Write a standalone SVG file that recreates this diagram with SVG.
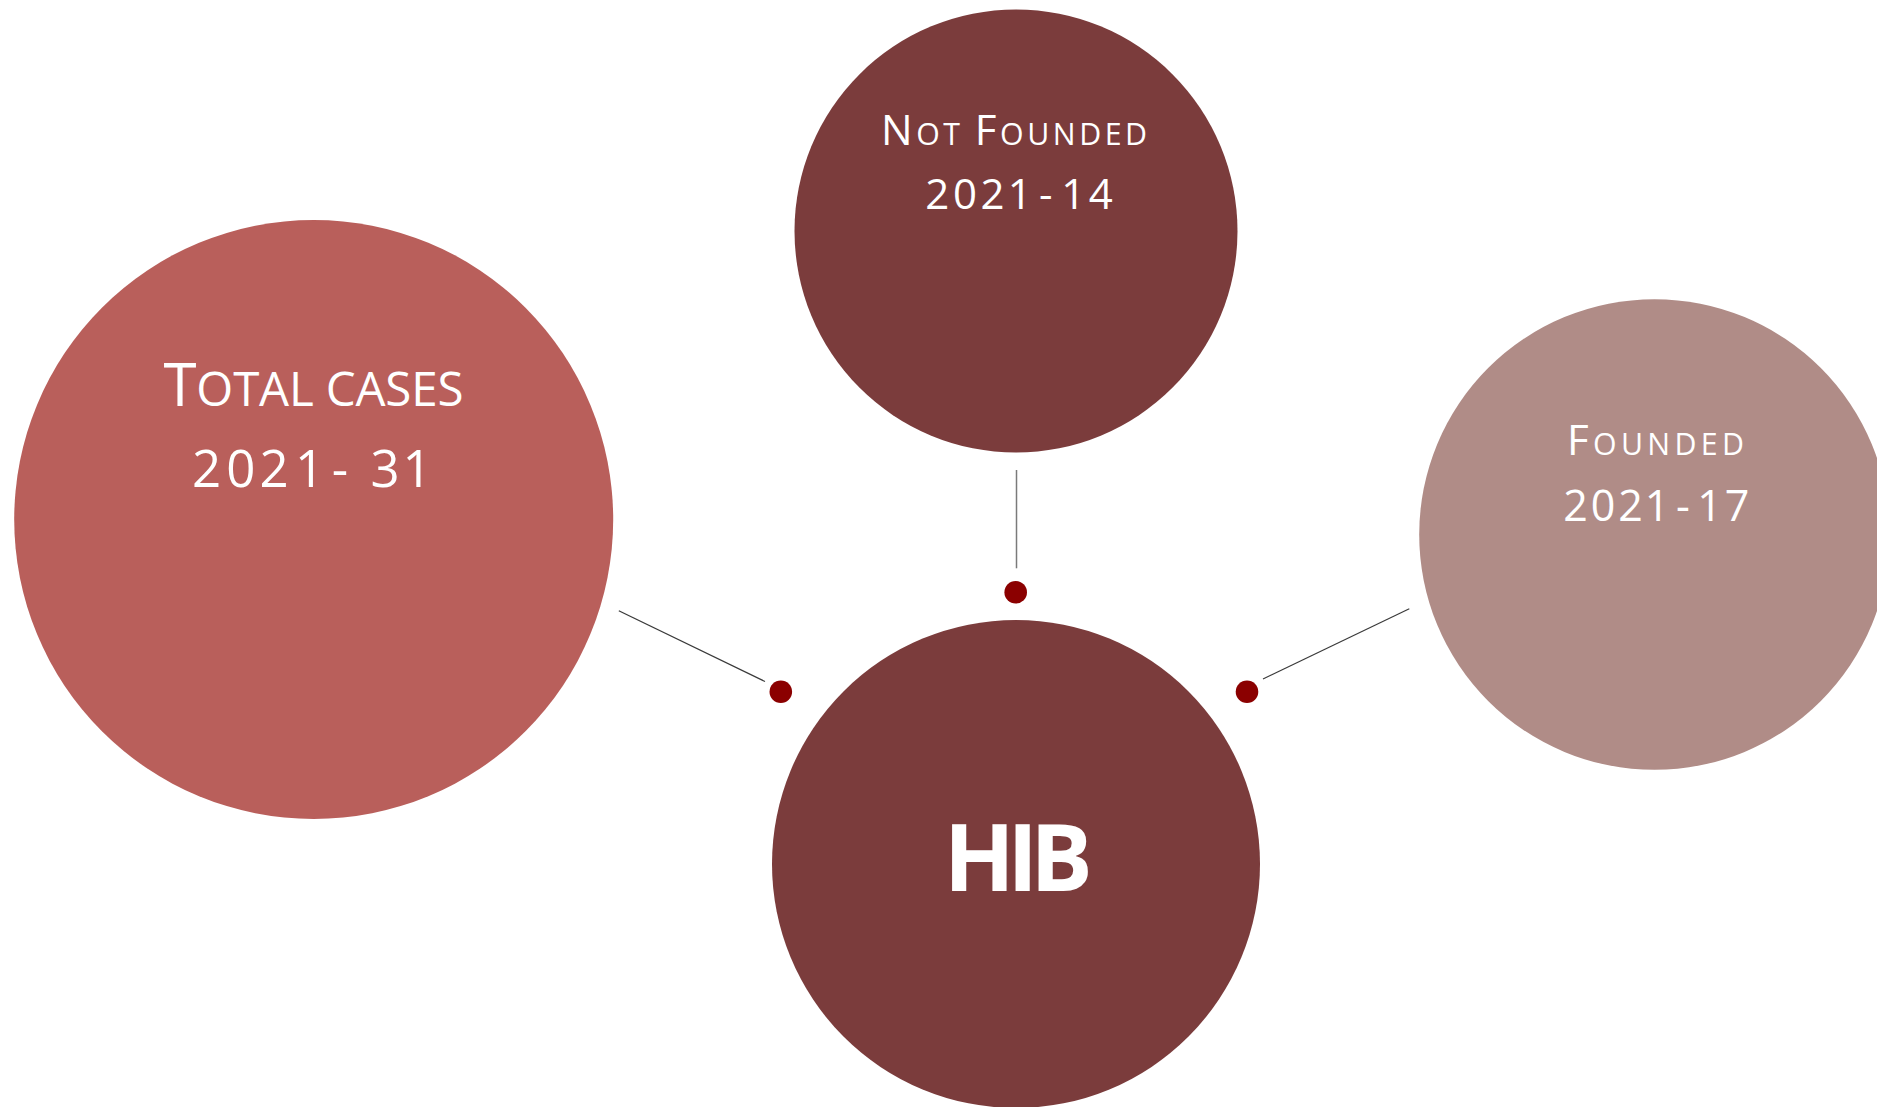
<svg xmlns="http://www.w3.org/2000/svg" width="1877" height="1107" viewBox="0 0 1877 1107">
<style>
.lbl{font-family:"Open Sans","Noto Sans","Liberation Sans",sans-serif;fill:#ffffff;text-anchor:middle}
.hib{font-family:"Open Sans","Noto Sans","Liberation Sans",sans-serif;font-weight:bold;fill:#ffffff;text-anchor:middle}
.conn{stroke:#3a3a3a;stroke-width:1.2;fill:none}
.dot{fill:#8b0000}
</style>
<rect width="1877" height="1107" fill="#ffffff"/>
<g id="total-cases">
<circle cx="313.7" cy="519.5" r="299.5" fill="#b95f5b"/>
<text class="lbl" x="313.5" y="405.7" textLength="300" font-size="60">T<tspan font-size="47.5">OTAL CASES</tspan></text>
<text class="lbl" x="206.7 240.8 274.2 309.5 340 362 385 417" y="486.7" font-size="51">2021- 31</text>
</g>
<g id="not-founded">
<circle cx="1016" cy="231" r="221.5" fill="#7b3c3c"/>
<text class="lbl" x="1014" y="145" textLength="266" font-size="42">N<tspan font-size="30.3">OT </tspan>F<tspan font-size="30.3">OUNDED</tspan></text>
<text class="lbl" x="937.2 965 992.5 1019.8 1045.8 1060 1073.2 1100.8" y="209" font-size="42">2021- 14</text>
</g>
<g id="founded">
<circle cx="1654.5" cy="534.5" r="235.3" fill="#b08c87"/>
<text class="lbl" x="1655.5" y="455" textLength="177" font-size="42">F<tspan font-size="30.3">OUNDED</tspan></text>
<text class="lbl" x="1575.5 1603 1630.5 1657 1683 1697 1709.5 1737" y="520.7" font-size="43">2021- 17</text>
</g>
<g id="hib">
<circle cx="1016" cy="864" r="244" fill="#7b3c3c"/>
<text class="hib" x="1018.3" y="890.7" textLength="149" font-size="93">HIB</text>
</g>
<g id="connectors">
<line class="conn" x1="618.8" y1="610.8" x2="765" y2="681.5"/>
<line class="conn" x1="1263" y1="679" x2="1409.3" y2="608.7"/>
<line x1="1016.5" y1="470" x2="1016.5" y2="568.3" stroke="#7a7a7a" stroke-width="1.5"/>
<circle class="dot" cx="780.8" cy="691.7" r="11.3"/>
<circle class="dot" cx="1015.7" cy="592.3" r="11.3"/>
<circle class="dot" cx="1247" cy="691.7" r="11.3"/>
</g>
</svg>
